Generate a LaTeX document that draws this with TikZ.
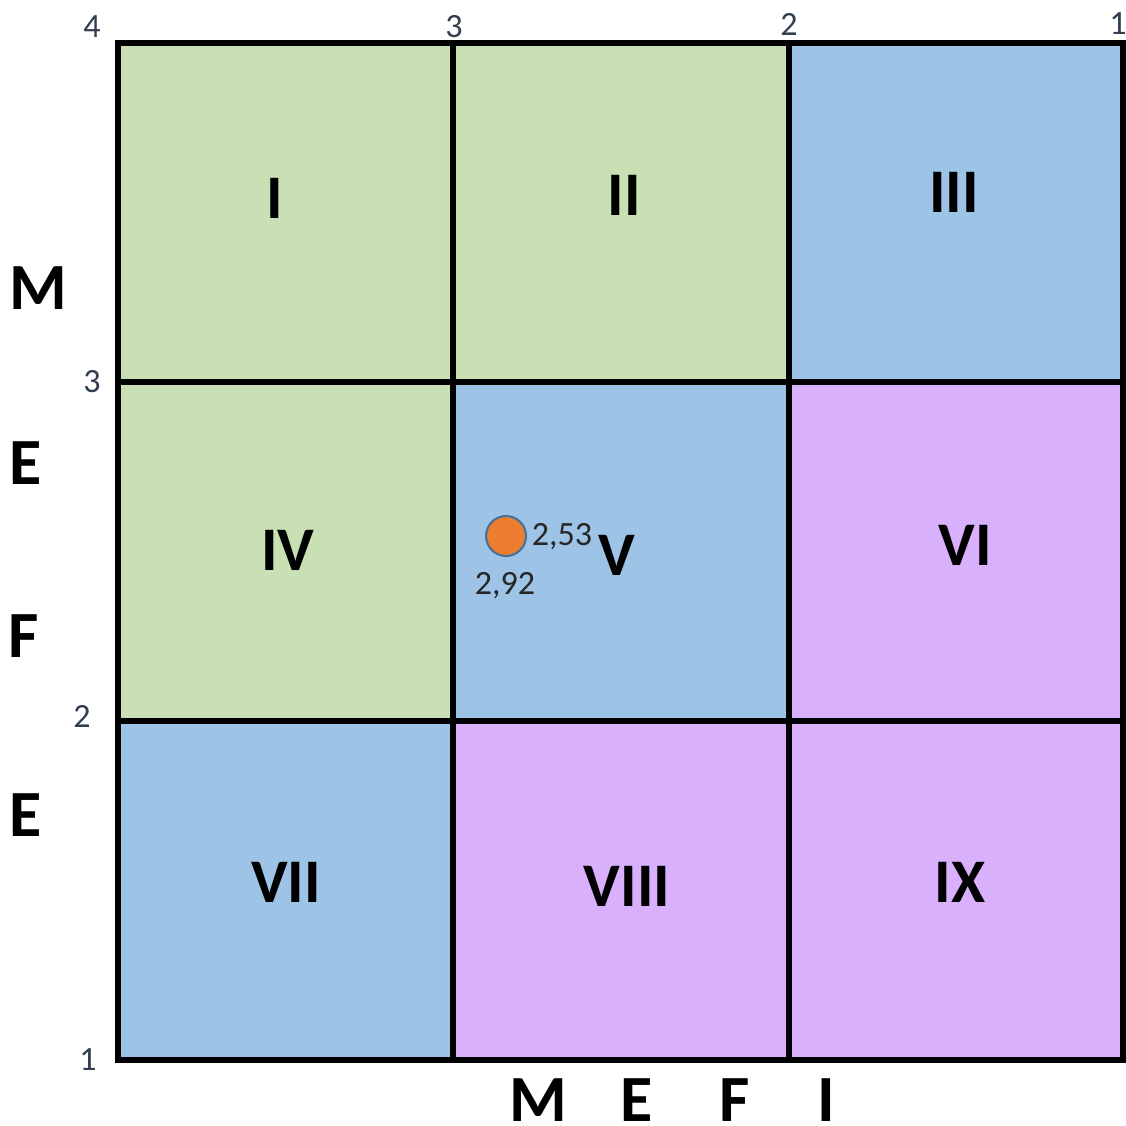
\documentclass[tikz,border=0pt]{standalone}
\usepackage{fontspec}
\setmainfont{Carlito}
\definecolor{cgreen}{HTML}{C8E0B4}
\definecolor{cblue}{HTML}{9DC3E6}
\definecolor{cpurple}{HTML}{D8B0FC}
\definecolor{corange}{HTML}{ED7D31}
\definecolor{cring}{HTML}{41719C}
\definecolor{cnum}{HTML}{333F50}
\begin{document}
\begin{tikzpicture}[x=1pt,y=-1pt,
  cell/.style={draw=black,line width=6pt,minimum width=#1,minimum height=339pt,inner sep=0pt,outer sep=0pt,anchor=north west},
  roman/.style={font=\fontsize{62}{62}\selectfont\bfseries,inner sep=0pt},
  axisletter/.style={font=\fontsize{66}{66}\selectfont\bfseries,inner sep=0pt},
  botletter/.style={axisletter,anchor=base,text depth=0pt},
  axisnum/.style={font=\fontsize{34}{34}\selectfont,text=cnum,inner sep=0pt},
  valnum/.style={font=\fontsize{34}{34}\selectfont,text=black!85,inner sep=0pt}]
\useasboundingbox (0,0) rectangle (1126,1126);
% cells
\node[cell=335pt,fill=cgreen] (c1) at (118,43) {};
\node[cell=336pt,fill=cgreen] (c2) at (453,43) {};
\node[cell=334pt,fill=cblue] (c3) at (789,43) {};
\node[cell=335pt,fill=cgreen] (c4) at (118,382) {};
\node[cell=336pt,fill=cblue] (c5) at (453,382) {};
\node[cell=334pt,fill=cpurple] (c6) at (789,382) {};
\node[cell=335pt,fill=cblue] (c7) at (118,721) {};
\node[cell=336pt,fill=cpurple] (c8) at (453,721) {};
\node[cell=334pt,fill=cpurple] (c9) at (789,721) {};
% roman numerals
\node[roman] (r1) at (275,198) {I};
\node[roman] (r2) at (624,195) {II};
\node[roman] (r3) at (954,192) {III};
\node[roman] (r4) at (288,550) {IV};
\node[roman] (r5) at (617,555) {V};
\node[roman] (r6) at (965,545) {VI};
\node[roman] (r7) at (286,882) {VII};
\node[roman] (r8) at (627,886) {VIII};
\node[roman] (r9) at (960,882) {IX};
% top axis numbers
\node[axisnum] (t4) at (92,27) {4};
\node[axisnum] (t3) at (454,27) {3};
\node[axisnum] (t2) at (789,24) {2};
\node[axisnum] (t1) at (1118,24) {1};
% left axis numbers
\node[axisnum] (l3) at (92,382) {3};
\node[axisnum] (l2) at (82,716) {2};
\node[axisnum] (l1) at (88,1060) {1};
% left letters
\node[axisletter] (lm) at (38,288) {M};
\node[axisletter] (le1) at (26,463) {E};
\node[axisletter] (lf) at (24,636) {F};
\node[axisletter] (le2) at (26,815) {E};
% bottom letters
\node[botletter] (bm) at (538,1121) {M};
\node[botletter] (be) at (637,1121) {E};
\node[botletter] (bf) at (735,1121) {F};
\node[botletter] (bi) at (826,1121) {I};
% point
\node[circle,fill=corange,draw=cring,line width=2pt,minimum size=40pt,inner sep=0pt] (pt) at (506,536) {};
\node[valnum] (v1) at (562,537) {2,53};
\node[valnum] (v2) at (505,586) {2,92};
\end{tikzpicture}
\end{document}
